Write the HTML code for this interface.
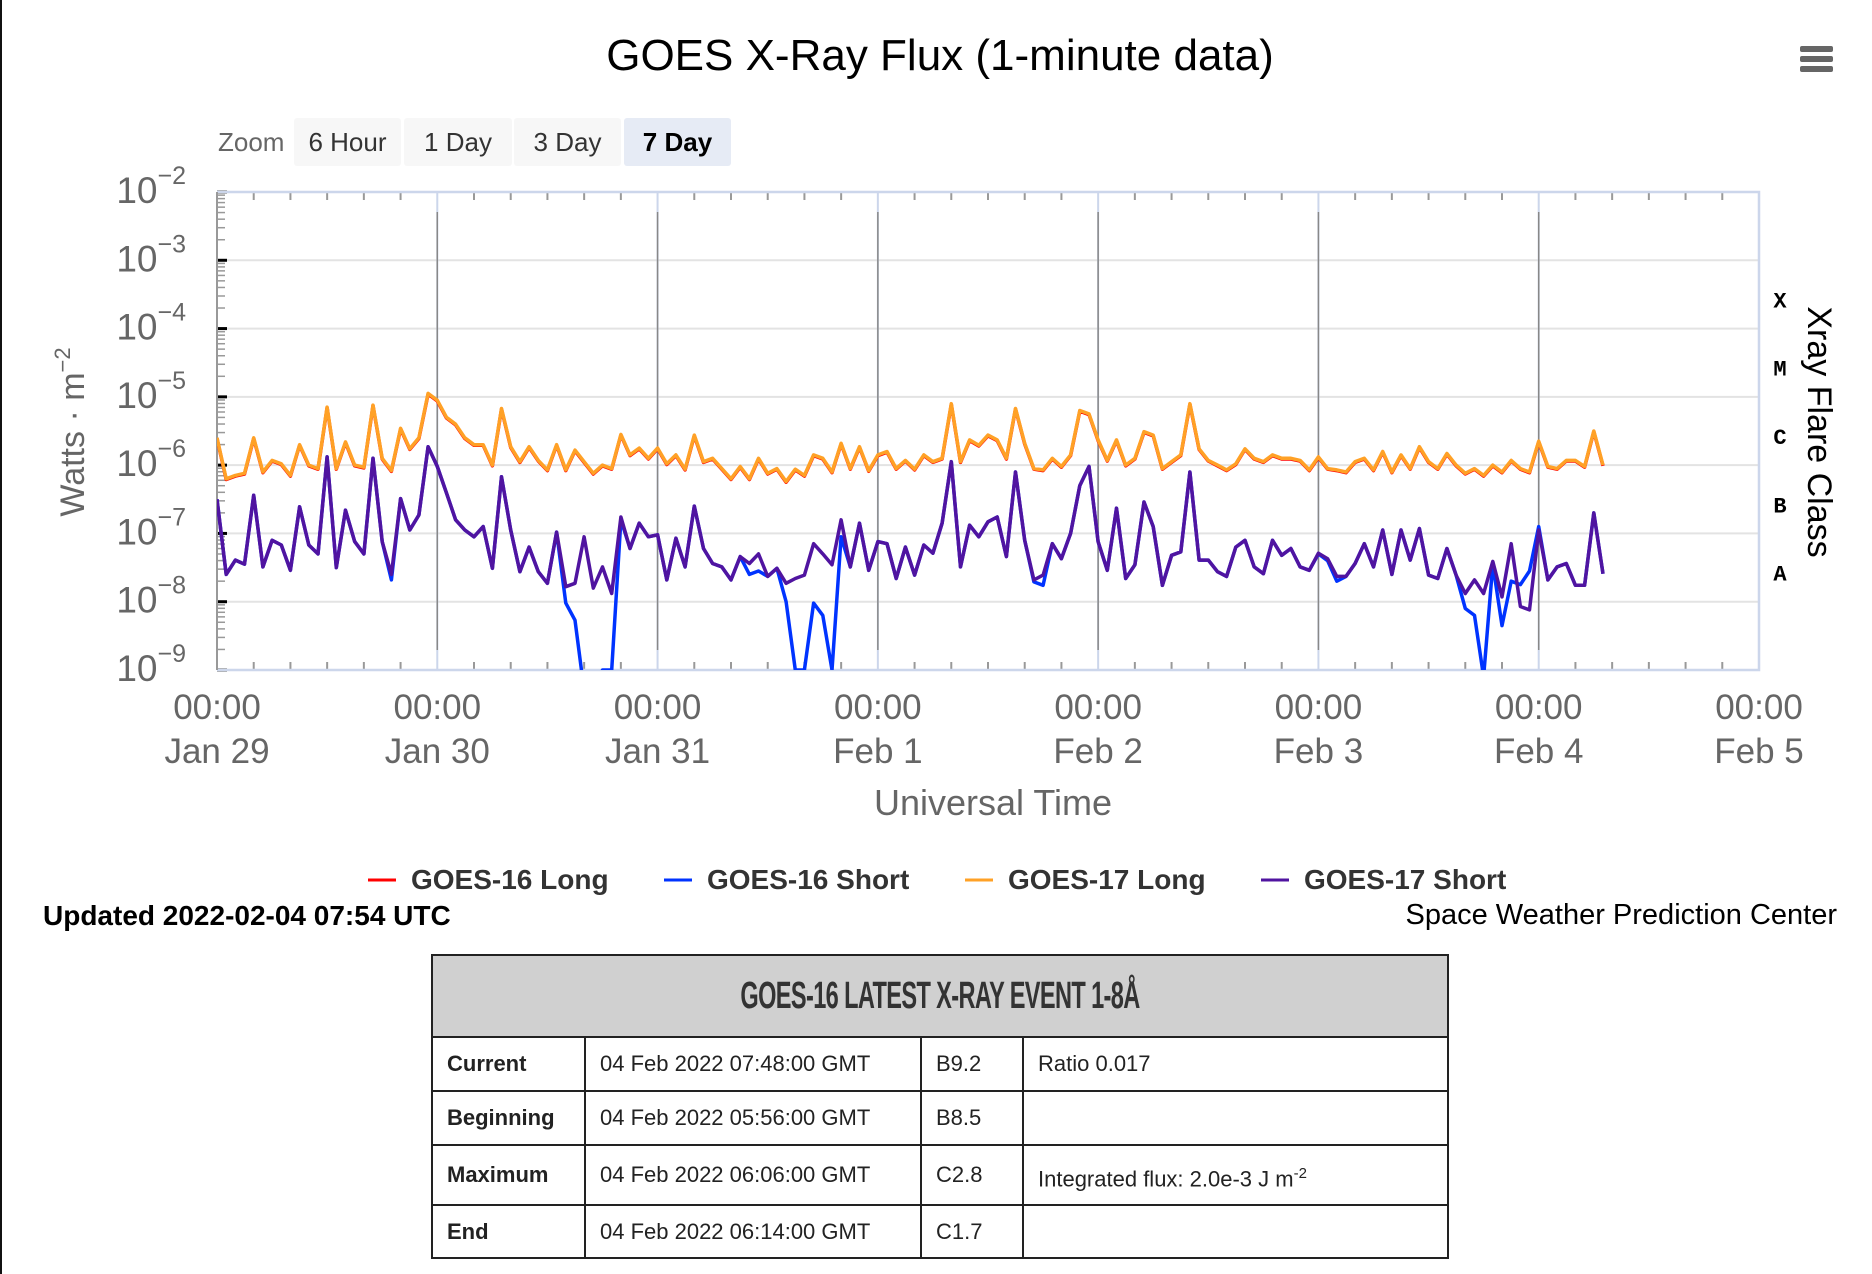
<!DOCTYPE html>
<html><head><meta charset="utf-8">
<style>
html,body{margin:0;padding:0;background:#fff;}
body{width:1872px;height:1274px;position:relative;overflow:hidden;font-family:"Liberation Sans",sans-serif;}
#chart{position:absolute;left:0;top:0;}
.zbtn{position:absolute;top:118px;height:48px;background:#f7f7f7;color:#333;font-size:26px;line-height:48px;text-align:center;border-radius:3px;}
table{position:absolute;left:431px;top:954px;width:1018px;border-collapse:collapse;font-size:22px;color:#222;}
td,th{border:2px solid #222;text-align:left;padding:0 0 0 14px;}
th{background:#d0d0d0;height:80px;text-align:center;padding:0;}
.hd{display:inline-block;font-weight:bold;font-size:38px;color:#333;transform:scaleX(0.62);letter-spacing:-1px;white-space:nowrap;}
</style></head>
<body>
<div style="position:absolute;left:0;top:0;width:2px;height:1274px;background:#111"></div>
<svg id="chart" width="1872" height="1274">
  <defs><clipPath id="plotclip"><rect x="217" y="192" width="1542" height="478"/></clipPath></defs>
  <text x="940" y="70" text-anchor="middle" font-size="44" fill="#000">GOES X-Ray Flux (1-minute data)</text>
  <g fill="#666">
    <rect x="1800" y="46" width="33" height="6" rx="2"/><rect x="1800" y="56" width="33" height="6" rx="2"/><rect x="1800" y="66" width="33" height="6" rx="2"/>
  </g>
  <g id="grid"></g>
  <g id="axes"></g>
  <g id="series" clip-path="url(#plotclip)"></g>
  <text transform="translate(84,432) rotate(-90)" text-anchor="middle" font-size="34" fill="#666">Watts · m<tspan dy="-14" font-size="22">−2</tspan></text>
  <text transform="translate(1808,432) rotate(90)" text-anchor="middle" font-size="34" fill="#000">Xray Flare Class</text>
  <text x="993" y="815" text-anchor="middle" font-size="36" fill="#666">Universal Time</text>
  <g id="legend" font-size="28" font-weight="bold" fill="#333"></g>
  <text x="43" y="925" font-size="28" font-weight="bold" fill="#000">Updated 2022-02-04 07:54 UTC</text>
  <text x="1837" y="924" text-anchor="end" font-size="29" fill="#000">Space Weather Prediction Center</text>
</svg>
<div style="position:absolute;left:218px;top:118px;line-height:48px;font-size:26px;color:#666">Zoom</div>
<div class="zbtn" style="left:294px;width:107px">6 Hour</div>
<div class="zbtn" style="left:404px;width:108px">1 Day</div>
<div class="zbtn" style="left:514px;width:107px">3 Day</div>
<div class="zbtn" style="left:624px;width:107px;background:#e6ebf5;font-weight:bold;color:#000">7 Day</div>

<table>
<tr><th colspan="4"><span class="hd">GOES-16 LATEST X-RAY EVENT 1-8Å</span></th></tr>
<tr style="height:54px"><td style="width:137px;font-weight:bold">Current</td><td style="width:320px">04 Feb 2022 07:48:00 GMT</td><td style="width:86px">B9.2</td><td>Ratio 0.017</td></tr>
<tr style="height:54px"><td style="font-weight:bold">Beginning</td><td>04 Feb 2022 05:56:00 GMT</td><td>B8.5</td><td></td></tr>
<tr style="height:60px"><td style="font-weight:bold">Maximum</td><td>04 Feb 2022 06:06:00 GMT</td><td>C2.8</td><td style="padding-top:8px">Integrated flux: 2.0e-3 J m<sup style="font-size:15px">-2</sup></td></tr>
<tr style="height:53px"><td style="font-weight:bold">End</td><td>04 Feb 2022 06:14:00 GMT</td><td>C1.7</td><td></td></tr>
</table>

<script>
const dayLabels = ['Jan 29','Jan 30','Jan 31','Feb 1','Feb 2','Feb 3','Feb 4','Feb 5'];
const yTickExponents = [-9,-8,-7,-6,-5,-4,-3,-2];
const classLabels = ['A','B','C','M','X'];
const classExponents = [-7.5,-6.5,-5.5,-4.5,-3.5];
const seriesNames = ['GOES-16 Long','GOES-16 Short','GOES-17 Long','GOES-17 Short'];
// log10 flux, hourly from Jan 29 00:00 UTC
const g17Long = [-5.6,-6.2,-6.15,-6.12,-5.6,-6.1,-5.93,-5.98,-6.15,-5.7,
-6.0,-6.05,-5.15,-6.05,-5.66,-6.0,-6.03,-5.12,-5.9,-6.08,
-5.46,-5.76,-5.6,-4.95,-5.05,-5.3,-5.4,-5.6,-5.7,-5.7,
-6.0,-5.17,-5.73,-5.95,-5.73,-5.93,-6.07,-5.7,-6.07,-5.78,
-5.95,-6.12,-6.0,-6.05,-5.55,-5.85,-5.75,-5.9,-5.75,-5.98,
-5.85,-6.06,-5.56,-5.95,-5.9,-6.05,-6.2,-6.02,-6.2,-5.9,
-6.12,-6.05,-6.24,-6.06,-6.15,-5.85,-5.9,-6.1,-5.68,-6.05,
-5.73,-6.08,-5.85,-5.8,-6.05,-5.93,-6.06,-5.85,-5.95,-5.9,
-5.1,-5.95,-5.63,-5.71,-5.56,-5.63,-5.9,-5.17,-5.68,-6.05,
-6.07,-5.9,-6.02,-5.85,-5.2,-5.25,-5.63,-5.93,-5.63,-6.0,
-5.9,-5.51,-5.56,-6.05,-5.95,-5.85,-5.1,-5.76,-5.93,-6.0,
-6.07,-5.98,-5.76,-5.9,-5.95,-5.85,-5.9,-5.9,-5.93,-6.07,
-5.88,-6.05,-6.07,-6.1,-5.95,-5.9,-6.07,-5.8,-6.1,-5.85,
-6.05,-5.73,-5.95,-6.05,-5.83,-6.0,-6.12,-6.05,-6.15,-6.0,
-6.1,-5.93,-6.05,-6.1,-5.65,-6.02,-6.05,-5.93,-5.93,-6.02,
-5.5,-6.0];
const g16Long = [-5.61,-6.21,-6.16,-6.13,-5.61,-6.11,-5.94,-5.99,-6.16,-5.71,
-6.01,-6.06,-5.16,-6.06,-5.67,-6.01,-6.04,-5.13,-5.91,-6.09,
-5.47,-5.77,-5.61,-4.96,-5.06,-5.31,-5.41,-5.61,-5.71,-5.71,
-6.01,-5.18,-5.74,-5.96,-5.74,-5.94,-6.08,-5.71,-6.08,-5.79,
-5.96,-6.13,-6.01,-6.06,-5.56,-5.86,-5.76,-5.91,-5.76,-5.99,
-5.86,-6.07,-5.57,-5.96,-5.91,-6.06,-6.21,-6.03,-6.21,-5.91,
-6.13,-6.06,-6.25,-6.07,-6.16,-5.86,-5.91,-6.11,-5.69,-6.06,
-5.74,-6.09,-5.86,-5.81,-6.06,-5.94,-6.07,-5.86,-5.96,-5.91,
-5.11,-5.96,-5.64,-5.72,-5.57,-5.64,-5.91,-5.18,-5.69,-6.06,
-6.08,-5.91,-6.03,-5.86,-5.21,-5.26,-5.64,-5.94,-5.64,-6.01,
-5.91,-5.52,-5.57,-6.06,-5.96,-5.86,-5.11,-5.77,-5.94,-6.01,
-6.08,-5.99,-5.77,-5.91,-5.96,-5.86,-5.91,-5.91,-5.94,-6.08,
-5.89,-6.06,-6.08,-6.11,-5.96,-5.91,-6.08,-5.81,-6.11,-5.86,
-6.06,-5.74,-5.96,-6.06,-5.84,-6.01,-6.13,-6.06,-6.16,-6.01,
-6.11,-5.94,-6.06,-6.11,-5.66,-6.03,-6.06,-5.94,-5.94,-6.03,
-5.51,-6.01];
const g17Short = [-6.5,-7.6,-7.39,-7.45,-6.44,-7.49,-7.1,-7.17,-7.54,-6.61,
-7.17,-7.3,-5.88,-7.5,-6.66,-7.12,-7.3,-5.9,-7.12,-7.6,
-6.49,-6.95,-6.73,-5.73,-6.02,-6.41,-6.8,-6.95,-7.05,-6.9,
-7.51,-6.17,-6.95,-7.56,-7.2,-7.56,-7.73,-6.98,-7.78,-7.73,
-7.05,-7.8,-7.49,-7.88,-6.76,-7.22,-6.85,-7.05,-7.02,-7.68,
-7.07,-7.49,-6.6,-7.22,-7.44,-7.49,-7.68,-7.34,-7.44,-7.3,
-7.63,-7.51,-7.73,-7.66,-7.61,-7.15,-7.3,-7.46,-6.8,-7.49,
-6.85,-7.54,-7.12,-7.15,-7.66,-7.2,-7.61,-7.17,-7.29,-6.85,
-5.95,-7.49,-6.88,-7.05,-6.83,-6.76,-7.34,-6.1,-7.1,-7.68,
-7.61,-7.15,-7.37,-7.0,-6.3,-6.02,-7.12,-7.54,-6.63,-7.66,
-7.46,-6.54,-6.9,-7.76,-7.32,-7.27,-6.1,-7.39,-7.39,-7.56,
-7.63,-7.2,-7.1,-7.49,-7.59,-7.1,-7.32,-7.22,-7.49,-7.54,
-7.29,-7.37,-7.63,-7.63,-7.44,-7.15,-7.49,-6.95,-7.6,-6.95,
-7.39,-6.93,-7.61,-7.66,-7.22,-7.61,-7.88,-7.68,-7.88,-7.41,
-7.93,-7.15,-8.07,-8.12,-6.95,-7.68,-7.49,-7.44,-7.76,-7.76,
-6.7,-7.59];
const g16Short = [-6.5,-7.6,-7.39,-7.45,-6.44,-7.49,-7.1,-7.17,-7.54,-6.61,
-7.17,-7.3,-5.88,-7.5,-6.66,-7.12,-7.3,-5.9,-7.12,-7.68,
-6.49,-6.95,-6.73,-5.73,-6.02,-6.41,-6.8,-6.95,-7.05,-6.9,
-7.51,-6.17,-6.95,-7.56,-7.2,-7.56,-7.73,-6.98,-8.02,-8.27,
-9.3,-9.3,-9.0,-9.0,-6.8,-7.22,-6.85,-7.05,-7.02,-7.68,
-7.07,-7.49,-6.6,-7.22,-7.44,-7.49,-7.68,-7.34,-7.6,-7.55,
-7.63,-7.51,-8.0,-9.0,-9.0,-8.02,-8.2,-9.0,-7.05,-7.49,
-6.85,-7.54,-7.12,-7.15,-7.66,-7.2,-7.61,-7.17,-7.29,-6.85,
-5.95,-7.49,-6.88,-7.05,-6.83,-6.76,-7.34,-6.1,-7.1,-7.71,
-7.76,-7.15,-7.37,-7.0,-6.3,-6.02,-7.12,-7.54,-6.63,-7.66,
-7.46,-6.54,-6.9,-7.76,-7.32,-7.27,-6.1,-7.39,-7.39,-7.56,
-7.63,-7.2,-7.1,-7.49,-7.59,-7.1,-7.32,-7.22,-7.49,-7.54,
-7.3,-7.4,-7.7,-7.63,-7.44,-7.15,-7.49,-6.95,-7.6,-6.95,
-7.39,-6.93,-7.61,-7.66,-7.22,-7.61,-8.1,-8.2,-9.1,-7.45,
-8.35,-7.7,-7.75,-7.55,-6.9,-7.68,-7.49,-7.44,-7.76,-7.76,
-6.7,-7.59];

const NS='http://www.w3.org/2000/svg';
const PL=217, PR=1759, PT=192, PB=670;
const xScale = h => PL + h*(PR-PL)/168;
const yScale = l => PB - (l+9)*(PB-PT)/7;
function mk(tag, attrs, parent){const e=document.createElementNS(NS,tag);for(const k in attrs)e.setAttribute(k,attrs[k]);parent.appendChild(e);return e;}
const grid=document.getElementById('grid'), axes=document.getElementById('axes');

yTickExponents.forEach(p=>{
  const y=yScale(p);
  if(p>-9&&p<-2){
    const ln=mk('line',{x1:PL,x2:PR,y1:y,y2:y,stroke:'#e3e3e3','stroke-width':2},grid);
    
    
  }
  const t=mk('text',{x:186,y:y+11,'text-anchor':'end','font-size':37,fill:'#666'},axes);
  
  
  t.textContent='10';
  const s=mk('tspan',{dy:-19,'font-size':25},t); s.textContent='−'+(-p);
  const tk=mk('line',{x1:PL,x2:PL+10,y1:y,y2:y,stroke:'#000','stroke-width':3},axes);
  
  
  if(p<-2){for(let m=2;m<=9;m++){const ym=yScale(p+Math.log10(m));
    const mt=mk('line',{x1:PL,x2:PL+8,y1:ym,y2:ym,stroke:'#999','stroke-width':1.5},axes);
    
    }}
});
dayLabels.forEach((d,i)=>{
  const x=xScale(i*24);
  if(i>0&&i<7){
    const gl=mk('line',{x1:x,x2:x,y1:PT,y2:PB,stroke:'#ccd6eb','stroke-width':2},grid);
    
    
    const dl=mk('line',{x1:x,x2:x,y1:212,y2:650,stroke:'#888','stroke-width':1.5},grid);
    
    
  }
  const t1=mk('text',{x:x,y:719,'text-anchor':'middle','font-size':35,fill:'#666'},axes);
  
  
  t1.textContent='00:00';
  const t2=mk('text',{x:x,y:763,'text-anchor':'middle','font-size':35,fill:'#666'},axes);
  
  
  t2.textContent=d;
});
for(let h=4;h<168;h+=4){ if(h%24===0) continue; const x=xScale(h);
  const a=mk('line',{x1:x,x2:x,y1:PT,y2:PT+8,stroke:'#999','stroke-width':2},axes);
  
  
  const b=mk('line',{x1:x,x2:x,y1:PB-8,y2:PB,stroke:'#999','stroke-width':2},axes);
  
  
}
const frame=mk('path',{d:`M${PL},${PT} H${PR} V${PB} H${PL}`,fill:'none',stroke:'#ccd6eb','stroke-width':2.5},axes);


const yl=mk('line',{x1:PL,x2:PL,y1:PT,y2:PB,stroke:'#999','stroke-width':2},axes);


classLabels.forEach((c,i)=>{
  const t=mk('text',{x:1780,y:yScale(classExponents[i])+13,'text-anchor':'middle','font-size':22,'font-weight':'bold','font-family':'Liberation Mono, monospace',fill:'#000'},axes);
  
  
  t.textContent=c;
});

const colors=['#ff0000','#0033ff','#ffa126','#5014a0'];
const data=[g16Long,g16Short,g17Long,g17Short];
const sg=document.getElementById('series');
const order=[0,2,1,3];
order.forEach(i=>{
  const pts=data[i].map((v,h)=>xScale(h).toFixed(1)+','+yScale(v).toFixed(1)).join(' ');
  const pl=mk('polyline',{points:pts,fill:'none',stroke:colors[i],'stroke-width':3.5,'stroke-linejoin':'round'},sg);
  
  
});
const lg=document.getElementById('legend');
const legX=[368,664,965,1261];
seriesNames.forEach((n,i)=>{
  const g=mk('g',{},lg);
  
  
  mk('line',{x1:legX[i],x2:legX[i]+28,y1:880,y2:880,stroke:colors[i],'stroke-width':3},g);
  const t=mk('text',{x:legX[i]+43,y:889},g); t.textContent=n;
});
</script>
</body></html>
